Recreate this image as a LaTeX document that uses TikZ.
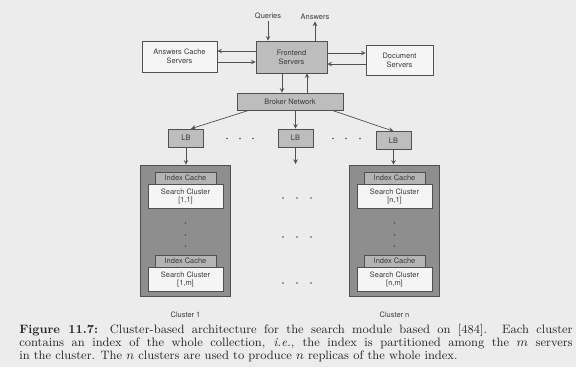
\documentclass[tikz,border=0pt]{standalone}
\usepackage{fontspec}
\newfontfamily\diagfont{TeX Gyre Heros}
\usetikzlibrary{positioning,arrows,calc}

\definecolor{page}{HTML}{ECECEC}
\definecolor{ink}{HTML}{3A3A3A}
\definecolor{lineg}{HTML}{505050}
\definecolor{boxg}{HTML}{BDBDBD}
\definecolor{clusg}{HTML}{8E8E8E}
\definecolor{tabg}{HTML}{B4B4B4}
\definecolor{wboxc}{HTML}{F5F5F5}

\def\pxu{0.025cm} % one pixel of the reference

\begin{document}
\begin{tikzpicture}[x=\pxu,y=-\pxu,>=stealth,
  lbl/.style={font=\diagfont\fontsize{5.3}{6.3}\selectfont, text=ink, inner sep=1pt},
  box/.style={lbl, draw=lineg, fill=boxg, align=center, inner sep=0pt},
  wbox/.style={box, fill=wboxc},
  lbbox/.style={box, minimum width=35*\pxu, minimum height=18*\pxu},
  clus/.style={draw=lineg, fill=clusg, minimum width=90*\pxu, minimum height=131*\pxu, inner sep=0pt},
  tabbox/.style={box, fill=tabg, minimum width=61*\pxu, minimum height=12*\pxu},
  sbox/.style={wbox, minimum width=75*\pxu, minimum height=24*\pxu},
  conn/.style={draw=lineg, line width=0.5pt},
  dot/.style={fill=lineg}]
  % page
  \fill[page] (0,0) rectangle (576,367);
  \useasboundingbox (0,0) rectangle (576,367);

  % frontend row
  \node[box, minimum width=71*\pxu, minimum height=32*\pxu] (front) at (291.5,57) {Frontend\\Servers};
  \node[wbox, minimum width=75*\pxu, minimum height=31*\pxu] (cache) at (179.5,56.5) {Answers Cache\\Servers};
  \node[wbox, minimum width=67*\pxu, minimum height=30*\pxu] (docs) at (399.5,60) {Document\\Servers};
  \node[lbl] (q) at (268,16) {Queries};
  \node[lbl] (a) at (315,17) {Answers};

  \draw[conn,->] (q) -- (q |- front.north);
  \draw[conn,->] (a |- front.north) -- (a);
  \draw[conn,->] ($(front.west)+(0,-6)$) coordinate (fc1) -- (fc1 -| cache.east);
  \draw[conn,->] ($(cache.east)+(0,5.5)$) coordinate (fc2) -- (fc2 -| front.west);
  \draw[conn,->] ($(front.east)+(0,-4)$) coordinate (fd1) -- (fd1 -| docs.west);
  \draw[conn,->] ($(docs.west)+(0,4)$) coordinate (fd2) -- (fd2 -| front.east);

  % broker and load balancers
  \node[box, minimum width=106*\pxu, minimum height=17*\pxu] (broker) at (290,101.5) {Broker Network};
  \draw[conn,->] ($(front.south)+(-9.5,0)$) coordinate (fb1) -- (fb1 |- broker.north);
  \draw[conn,<-] ($(front.south)+(15.5,0)$) coordinate (fb2) -- (fb2 |- broker.north);

  \node[lbbox] (lb1) at (186,138) {LB};
  \node[lbbox] (lb2) at (295.5,138) {LB};
  \node[lbbox] (lbn) at (393.5,140.5) {LB};
  \draw[conn,->] ($(broker.south)+(-41,0)$) -- ($(lb1.north)+(5,0)$);
  \draw[conn,->] (lb2.north |- broker.south) -- (lb2.north);
  \draw[conn,->] ($(broker.south)+(42,0)$) -- (lbn.north);
  \foreach \x in {227,240,253,333,346,360}
    \fill[dot] (\x,138.5) circle (0.6pt);

  % clusters
  \foreach \x/\c in {185.5/1,394.5/n} {
    \node[clus] (c\c) at (\x,230.5) {};
    \node[tabbox] (t\c1) at (\x,178) {Index Cache};
    \node[sbox, below=0pt of t\c1] (s\c1) {Search Cluster\\{[\c,1]}};
    \node[tabbox] (t\c m) at (\x,261) {Index Cache};
    \node[sbox, below=0pt of t\c m] (s\c m) {Search Cluster\\{[\c,m]}};
    \node[lbl, below=0.36cm of c\c] {Cluster \c};
    \foreach \y in {223,235,246}
      \fill[dot] (\x,\y) circle (0.6pt);
  }
  \draw[conn,->] (lb1) -- (lb1 |- c1.north);
  \draw[conn,->] (lbn) -- (lbn |- cn.north);
  \coordinate (mid) at (295.5,164);
  \draw[conn,->] (lb2) -- (mid);
  \foreach \y in {198,237,283}
    \foreach \x in {283,297,311}
      \fill[dot] (\x,\y) circle (0.6pt);

  % caption
  \node[anchor=north west, text width=13.83cm, align=justify, inner sep=0pt,
    text=black!85, font=\fontsize{8.65}{9.4}\selectfont] (cap) at (19,324)
    {\textbf{Figure 11.7:} Cluster-based architecture for the search module based on [484]. Each cluster\linebreak
     contains an index of the whole collection, \textit{i.e.}, the index is partitioned among the $m$ servers\linebreak
     in the cluster. The $n$ clusters are used to produce $n$ replicas of the whole index.};
\end{tikzpicture}
\end{document}
